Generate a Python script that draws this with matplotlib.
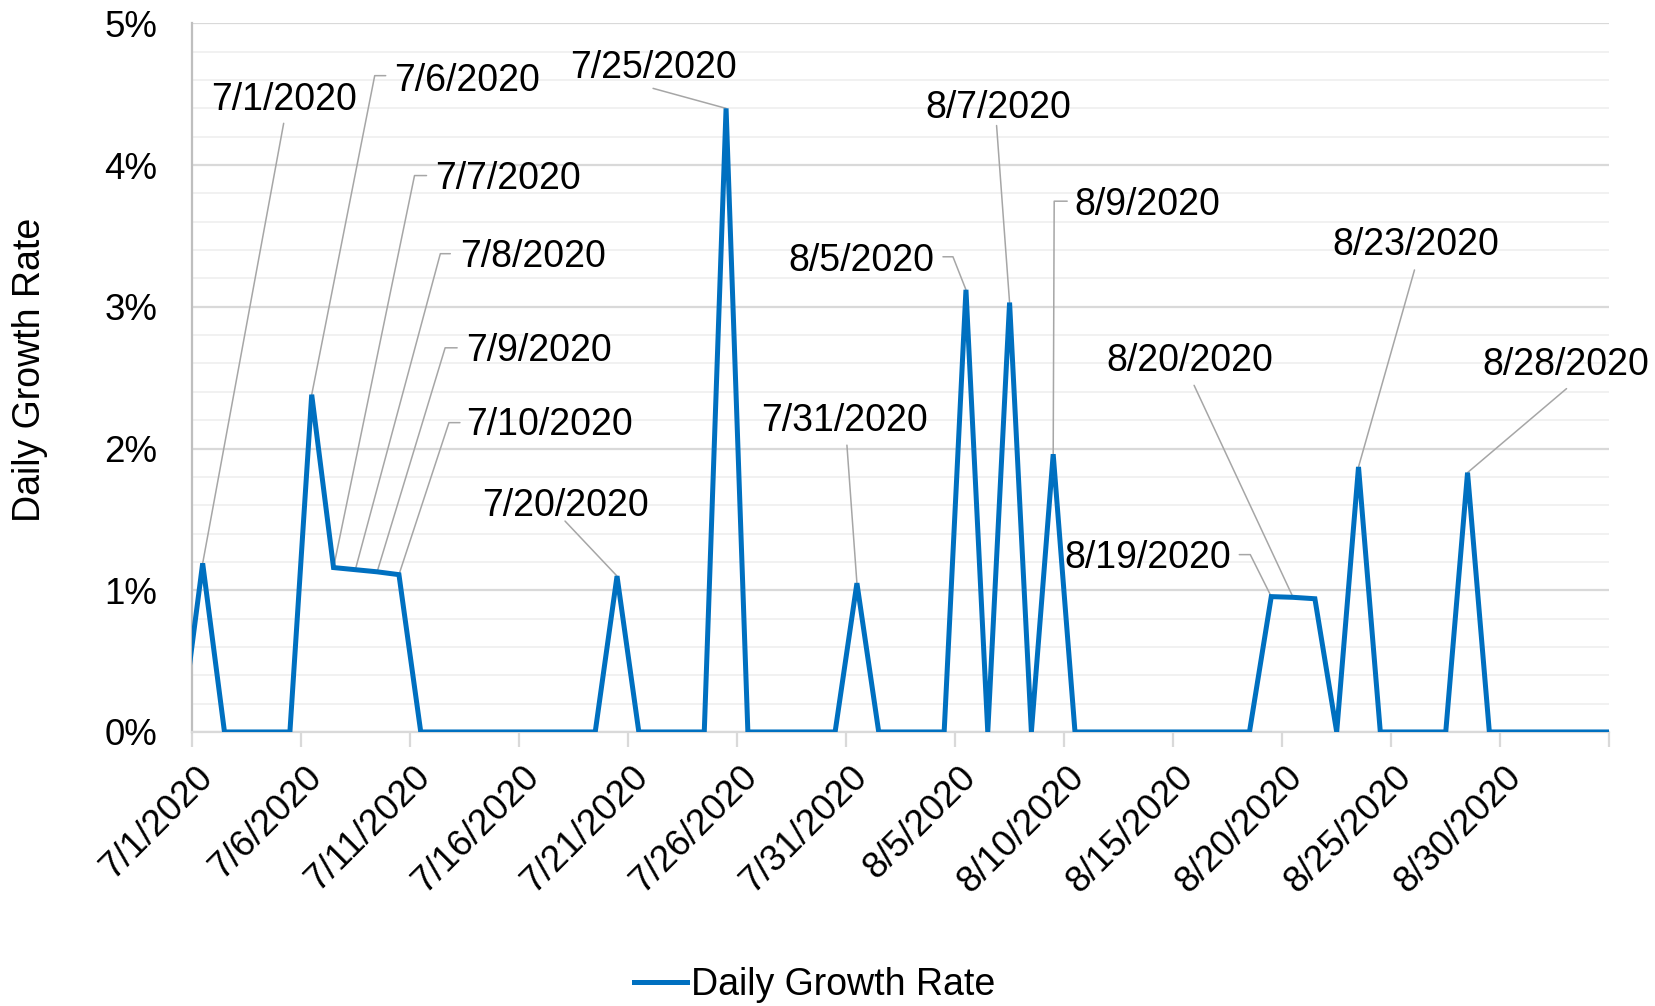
import math
import matplotlib
matplotlib.use("Agg")
import matplotlib.pyplot as plt
import matplotlib.dates as mdates
import matplotlib.transforms as mtrans
from matplotlib.ticker import MultipleLocator, FuncFormatter
import pandas as pd

plt.rcParams['font.family'] = ['Liberation Sans', 'DejaVu Sans']

# daily growth rate in %, one value per day from 6/30/2020 to 9/4/2020
days = pd.date_range("2020-06-30", "2020-09-04", freq="D")
rate = [0,
        1.19, 0, 0, 0, 0, 2.38, 1.16, 1.145, 1.13, 1.11,
        0, 0, 0, 0, 0, 0, 0, 0, 0, 1.10,
        0, 0, 0, 0, 4.40, 0, 0, 0, 0, 0, 1.05,
        0, 0, 0, 0, 3.12, 0, 3.03, 0, 1.96,
        0, 0, 0, 0, 0, 0, 0, 0, 0, 0.955,
        0.95, 0.94, 0, 1.87, 0, 0, 0, 0, 1.83,
        0, 0, 0, 0, 0, 0, 0]

labelled = ["7/1/2020", "7/6/2020", "7/7/2020", "7/8/2020", "7/9/2020", "7/10/2020",
            "7/20/2020", "7/25/2020", "7/31/2020", "8/5/2020", "8/7/2020", "8/9/2020",
            "8/19/2020", "8/20/2020", "8/23/2020", "8/28/2020"]

tick_days = pd.date_range("2020-07-01", "2020-09-04", freq="5D")

# label placement in pixels relative to the point: text centre, leader start, corner
layout = {
    "7/1/2020": (81, 467, 81, 440, None),
    "7/6/2020": (155, 317, 74, 319, 63),
    "7/7/2020": (174, 392, 93, 392, 81),
    "7/8/2020": (178, 316, 95, 316, 85),
    "7/9/2020": (162, 224, 80, 224, 68),
    "7/10/2020": (151, 153, 61, 152, 50),
    "7/20/2020": (-52, 74, -52, 55, None),
    "7/25/2020": (-73, 44, -73, 20, None),
    "7/31/2020": (-12, 166, -10, 138, None),
    "8/5/2020": (-105, 32, -23, 33, -13),
    "8/7/2020": (-11, 198, -13, 177, None),
    "8/9/2020": (94, 253, 14, 253, 1),
    "8/19/2020": (-124, 42, -32, 42, -21),
    "8/20/2020": (-103, 240, -99, 212, None),
    "8/23/2020": (57, 225, 56, 197, None),
    "8/28/2020": (98, 111, 99, 84, None),
}

blue = "#0070C0"
grey = "#a6a6a6"
fs = 27
px = 0.72  # pixels -> points at dpi 100

fig = plt.figure(figsize=(16.56, 10.06), dpi=100)
ax = fig.add_axes([0.1158, 0.2724, 0.856, 0.7044])

x = mdates.date2num(days) + 0.5
y = [v / 100 for v in rate]
line, = ax.plot(x, y, color=blue, lw=3.6, zorder=3, label="Daily Growth Rate",
                solid_joinstyle="miter")

ax.set_xlim(mdates.date2num(tick_days[0]), mdates.date2num(tick_days[-1]))
ax.set_ylim(0, 0.05)

ax.yaxis.set_major_locator(MultipleLocator(0.01))
ax.yaxis.set_minor_locator(MultipleLocator(0.002))
ax.yaxis.set_major_formatter(FuncFormatter(lambda v, p: f"{v*100:.0f}%"))
ax.grid(which="major", axis="y", color="#d9d9d9", lw=1.6, zorder=0)
ax.grid(which="minor", axis="y", color="#f0f0f0", lw=1.3, zorder=0)
ax.set_axisbelow(True)
ax.tick_params(axis="y", which="both", length=0, labelsize=26.5, pad=25)

ax.set_xticks(mdates.date2num(tick_days))
tick_labels = [f"{d.month}/{d.day}/{d.year}" for d in tick_days]
tick_labels[-1] = ""
ax.set_xticklabels(tick_labels)
ax.tick_params(axis="x", length=11, width=1.6, color="#d9d9d9", labelsize=26.5, pad=9)
shift = mtrans.ScaledTranslation(0.03, 0, fig.dpi_scale_trans)
for t in ax.get_xticklabels():
    t.set_rotation(45)
    t.set_ha("right")
    t.set_va("top")
    t.set_rotation_mode("anchor")
    t.set_transform(t.get_transform() + shift)

for s in ["top", "right"]:
    ax.spines[s].set_visible(False)
ax.spines["left"].set_color("#bfbfbf")
ax.spines["left"].set_linewidth(1.6)
ax.spines["bottom"].set_color("#d9d9d9")
ax.spines["bottom"].set_linewidth(1.6)

day_str = [f"{d.month}/{d.day}/{d.year}" for d in days]
for lbl in labelled:
    i = day_str.index(lbl)
    tx, ty, sx, sy, cx = layout[lbl]
    ax.annotate(lbl, xy=(x[i], y[i]), xytext=(tx * px, (ty - 13.5) * px),
                textcoords="offset points", ha="center", va="baseline",
                fontsize=fs, annotation_clip=False, zorder=2)
    if cx is None:
        cs = "arc3"
    else:
        ang = math.degrees(math.atan2(sy, cx))
        cs = f"angle,angleA=0,angleB={ang},rad=0"
    ax.annotate("", xy=(x[i], y[i]), xytext=(sx * px, sy * px),
                textcoords="offset points", annotation_clip=False, zorder=2,
                arrowprops=dict(arrowstyle="-", color=grey, lw=1.1,
                                shrinkA=0, shrinkB=0, connectionstyle=cs))

fig.text(0.018, 0.632, "Daily Growth Rate", rotation=90, ha="center", va="center",
         fontsize=fs)
fig.legend(handles=[line], loc="center", bbox_to_anchor=(0.492, 0.021), frameon=False,
           fontsize=fs, handlelength=1.4, handletextpad=0.12)

fig.savefig("out.png", dpi=100)
